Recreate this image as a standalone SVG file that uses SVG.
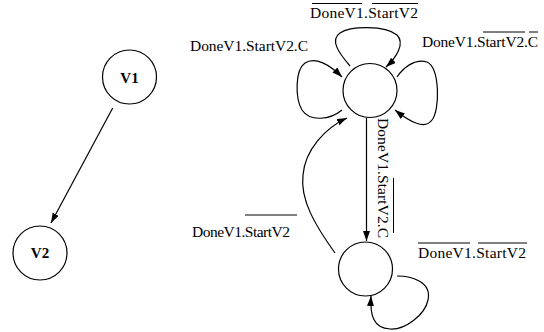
<svg xmlns="http://www.w3.org/2000/svg" width="544" height="332" viewBox="0 0 544 332">
<style>
.n{fill:none;stroke:#000;stroke-width:1.2}
.c{fill:none;stroke:#000;stroke-width:1.2}
.t{font-family:'Liberation Serif','DejaVu Serif','Times New Roman',serif;font-size:15.5px;fill:#000}
.v{font-family:'Liberation Serif','DejaVu Serif','Times New Roman',serif;font-size:15px;font-weight:bold;fill:#000;text-anchor:middle}
.o{stroke:#000;stroke-width:1}
</style>
<defs>
<marker id="ah" markerUnits="userSpaceOnUse" markerWidth="11" markerHeight="8" refX="10" refY="3.5" orient="auto">
<path d="M0,0 L10,3.5 L0,7 z" fill="#000"/>
</marker>
</defs>
<rect width="544" height="332" fill="#fff"/>
<g id="V1"><circle class="n" cx="129.5" cy="77" r="27"/><text class="v" x="129.5" y="83">V1</text></g>
<g id="V2"><circle class="n" cx="40" cy="253" r="27"/><text class="v" x="40" y="258">V2</text></g>
<g id="S1"><circle class="n" cx="370" cy="90.5" r="27"/></g>
<g id="S2"><circle class="n" cx="365.5" cy="269" r="27"/></g>
<g id="connectors">
<path class="c" d="M112.7,108 L51,223" marker-end="url(#ah)"/>
<path class="c" d="M350,66 C338,52 330,40 340,33 C350,26 385,25 397,35 C405,43 397,57 386,67" marker-end="url(#ah)"/>
<path class="c" d="M342,110 C330,120 310,122 302,110 C295,98 295,70 305,63 C315,56 330,65 342,77" marker-end="url(#ah)"/>
<path class="c" d="M397,77 C403,68 415,58 427,62 C440,68 440,110 432,120 C425,130 410,122 395,110" marker-end="url(#ah)"/>
<path class="c" d="M366.5,118 L366.5,241" marker-end="url(#ah)"/>
<path class="c" d="M335,253 C315,225 300,200 303,175 C305,150 325,128 347,118" marker-end="url(#ah)"/>
<path class="c" d="M397,276 C412,276 432,282 428,300 C425,315 405,330 390,329 C373,328 370,315 371,296" marker-end="url(#ah)"/>
</g>
<g id="labels">
<text class="t" x="310" y="18" textLength="108" lengthAdjust="spacing">DoneV1.StartV2</text>
<line class="o" x1="312" y1="3.5" x2="362" y2="3.5"/><line class="o" x1="372" y1="3.5" x2="418" y2="3.5"/>
<text class="t" x="190" y="50.5" textLength="118" lengthAdjust="spacing">DoneV1.StartV2.C</text>
<text class="t" x="422" y="46.5" textLength="116" lengthAdjust="spacing">DoneV1.StartV2.C</text>
<line class="o" x1="483" y1="32" x2="525" y2="32"/><line class="o" x1="529" y1="32" x2="538" y2="32"/>
<text class="t" transform="translate(378,118) rotate(90)" x="0" y="0" textLength="120" lengthAdjust="spacing">DoneV1.StartV2.C</text>
<line class="o" x1="393.5" y1="178" x2="393.5" y2="233"/>
<text class="t" x="192" y="236.5" textLength="98" lengthAdjust="spacing">DoneV1.StartV2</text>
<line class="o" x1="245" y1="215" x2="297" y2="215"/>
<text class="t" x="418" y="258" textLength="108" lengthAdjust="spacing">DoneV1.StartV2</text>
<line class="o" x1="418" y1="243" x2="470" y2="243"/><line class="o" x1="478" y1="243" x2="527" y2="243"/>
</g>
</svg>
